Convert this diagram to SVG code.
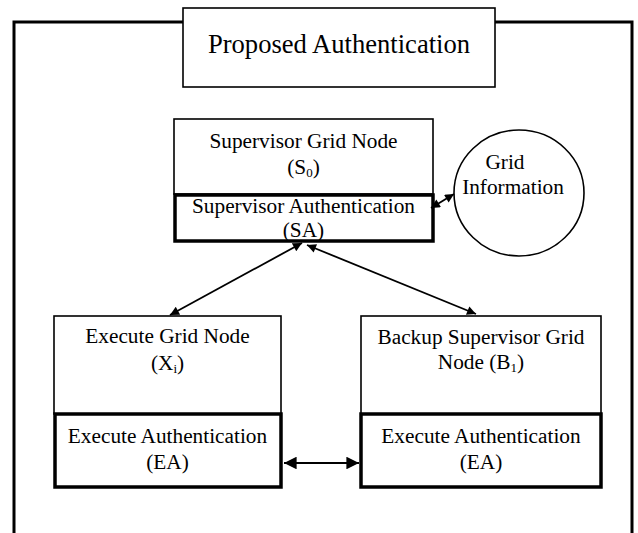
<svg xmlns="http://www.w3.org/2000/svg" width="638" height="533" viewBox="0 0 638 533">
<defs>
<style>
text{font-family:"Liberation Serif","Times New Roman",serif;font-size:21.3px;fill:#000;text-anchor:middle}
.thin{fill:#fff;stroke:#000;stroke-width:1.6}
.thick{fill:#fff;stroke:#000;stroke-width:3.5}
.conn{stroke:#000;stroke-width:1.8;fill:none}
sub{font-size:13px}
</style>
<marker id="ah" viewBox="0 0 10 10" refX="10" refY="5" markerWidth="6" markerHeight="5" orient="auto-start-reverse" markerUnits="strokeWidth">
<path d="M0,0 L10,5 L0,10 z" fill="#000"/>
</marker>
<marker id="ahb" viewBox="0 0 10 10" refX="10" refY="5" markerWidth="7" markerHeight="7" orient="auto-start-reverse" markerUnits="strokeWidth">
<path d="M0,0 L10,5 L0,10 z" fill="#000"/>
</marker>
</defs>
<rect width="638" height="533" fill="#fff"/>
<g id="frame">
<path d="M14,535 V22 H632 V535" fill="none" stroke="#000" stroke-width="3"/>
</g>
<g id="title">
<rect class="thin" x="183" y="8" width="312" height="79"/>
<text x="339" y="53" style="font-size:26.6px">Proposed Authentication</text>
</g>
<g id="supervisor">
<rect class="thin" x="174" y="119" width="259" height="75"/>
<text x="303.5" y="148">Supervisor Grid Node</text>
<text x="303.5" y="174">(S<tspan font-size="13" dy="3">0</tspan><tspan dy="-3">)</tspan></text>
</g>
<g id="sa">
<rect class="thick" x="175" y="195" width="258" height="46"/>
<text x="303.5" y="213">Supervisor Authentication</text>
<text x="303.5" y="237">(SA)</text>
</g>
<g id="gridinfo">
<ellipse cx="519" cy="193" rx="65" ry="63" fill="#fff" stroke="#000" stroke-width="1.6"/>
<text x="505" y="169">Grid</text>
<text x="513" y="194">Information</text>
</g>
<g id="execute">
<rect class="thin" x="54" y="316" width="227" height="98"/>
<text x="167.5" y="343">Execute Grid Node</text>
<text x="167.5" y="370">(X<tspan font-size="13" dy="3">i</tspan><tspan dy="-3">)</tspan></text>
</g>
<g id="backup">
<rect class="thin" x="361" y="316" width="240" height="98"/>
<text x="481" y="344">Backup Supervisor Grid</text>
<text x="481" y="369">Node (B<tspan font-size="13" dy="3">1</tspan><tspan dy="-3">)</tspan></text>
</g>
<g id="ea1">
<rect class="thick" x="55" y="414" width="226" height="73"/>
<text x="167.5" y="443">Execute Authentication</text>
<text x="167.5" y="469">(EA)</text>
</g>
<g id="ea2">
<rect class="thick" x="361" y="414" width="240" height="73"/>
<text x="481" y="443">Execute Authentication</text>
<text x="481" y="469">(EA)</text>
</g>
<g id="connectors">
<line class="conn" x1="302" y1="243" x2="170" y2="315" marker-start="url(#ah)" marker-end="url(#ah)"/>
<line class="conn" x1="307" y1="245" x2="476" y2="314" marker-start="url(#ah)" marker-end="url(#ah)"/>
<line class="conn" x1="431" y1="208" x2="454" y2="194" marker-start="url(#ah)" marker-end="url(#ah)"/>
<line class="conn" x1="284" y1="463" x2="359" y2="463" marker-start="url(#ahb)" marker-end="url(#ahb)"/>
</g>
</svg>
